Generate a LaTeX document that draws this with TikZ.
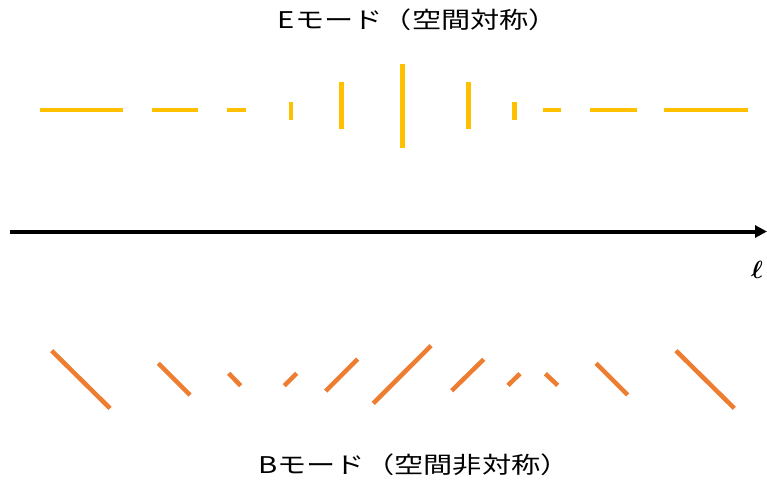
\documentclass[tikz,border=0pt]{standalone}
\usepackage{amsmath,bm}
\usepackage{fontspec}
\usepackage{graphicx}
\newfontfamily\jpfont{Noto Sans CJK JP}
\usetikzlibrary{arrows.meta}
\definecolor{emode}{HTML}{FFC000}
\definecolor{bmode}{HTML}{ED7D31}
\tikzset{
  eseg/.style={draw=emode, line width=4.5pt},
  bseg/.style={draw=bmode, line width=4.5pt},
  title/.style={font=\jpfont\fontsize{23}{27}\selectfont, inner sep=0pt}
}
\begin{document}
\begin{tikzpicture}[x=1pt,y=-1pt]
\useasboundingbox (0,0) rectangle (767,485);
% titles
\node[title] (et) at (418,20) {\scalebox{1.27}[1]{Eモード（空間対称）}};
\node[title] (bt) at (414,465) {\scalebox{1.27}[1]{Bモード（空間非対称）}};
% E mode
\draw[eseg] (40,110) -- (123.3,110);
\draw[eseg] (151.7,110) -- (197.7,110);
\draw[eseg] (227.3,110) -- (245.7,110);
\draw[eseg] (291,101.7) -- (291,120.3);
\draw[eseg] (341.7,82.3) -- (341.7,128.7);
\draw[eseg] (402.7,64) -- (402.7,147.7);
\draw[eseg] (468.3,82.3) -- (468.3,128.7);
\draw[eseg] (514.3,101.7) -- (514.3,120.3);
\draw[eseg] (542.7,110) -- (561,110);
\draw[eseg] (590,110) -- (636.7,110);
\draw[eseg] (664,110) -- (747.7,110);
% axis
\coordinate (a0) at (10,231.5);
\coordinate (a1) at (767,231.5);
\draw[line width=4pt, -{Triangle[length=12pt,width=12pt]}] (a0) -- (a1);
\node[inner sep=0pt, font=\fontsize{30}{34}\selectfont] (ell) at (757,270) {$\bm{\ell}$};
% B mode
\draw[bseg] (51.7,350.7) -- (110,408.3);
\draw[bseg] (158.3,363.3) -- (190,395);
\draw[bseg] (228.7,373.3) -- (240.7,385.7);
\draw[bseg] (284.3,385.7) -- (296.7,373.3);
\draw[bseg] (325.7,391) -- (357.7,359);
\draw[bseg] (373.3,403.3) -- (431,345.7);
\draw[bseg] (451.7,390.7) -- (483.7,359.3);
\draw[bseg] (508,385.3) -- (520,373.7);
\draw[bseg] (545.3,373.7) -- (557.7,385.3);
\draw[bseg] (596,363.3) -- (627.7,395);
\draw[bseg] (676,350.7) -- (734.3,408.3);
\end{tikzpicture}
\end{document}
